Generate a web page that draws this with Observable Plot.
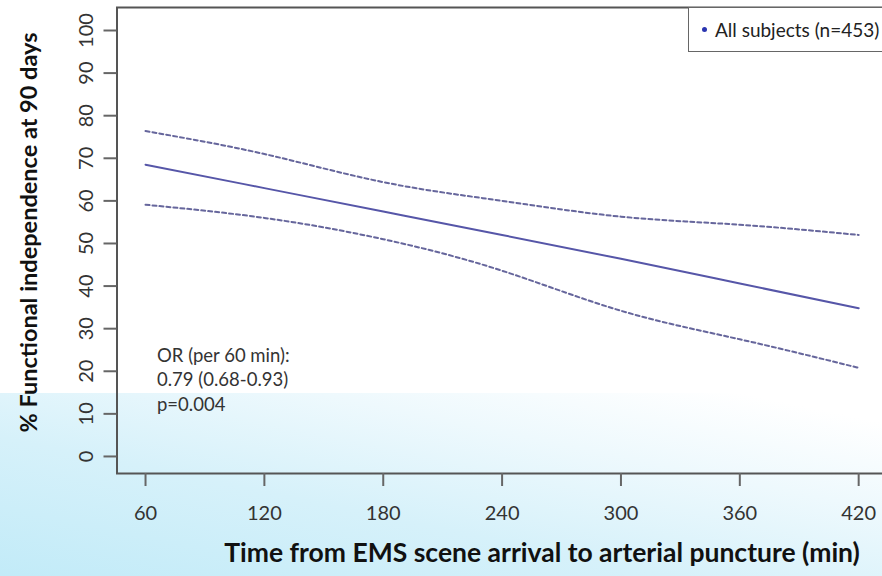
<!DOCTYPE html>
<html>
<head>
<meta charset="utf-8">
<script src="https://cdn.jsdelivr.net/npm/d3@7"></script>
<script src="https://cdn.jsdelivr.net/npm/@observablehq/plot@0.6"></script>
<style>
  html, body { margin: 0; padding: 0; width: 882px; height: 576px; overflow: hidden; background: #fff; font-family: Lato, "Open Sans", sans-serif; }
  #wrap { position: relative; width: 882px; height: 576px; overflow: hidden; }
  #bg { position: absolute; left: 0; top: 393px; width: 882px; height: 183px;
        background: linear-gradient(to top right, #c2ebf8 0%, #d6f1fa 38%, #eef9fd 68%, #ffffff 92%); }
  #chart { position: absolute; left: 0; top: 0; }
  #legend { position: absolute; left: 688px; top: 7px; width: 210px; height: 45px;
            border: 1.5px solid #666; background: #fff; box-sizing: border-box;
            display: flex; align-items: center; font-family: Lato, sans-serif; font-size: 19px; color: #222; }
  #legend .dot { display: inline-block; width: 5px; height: 5px; border-radius: 50%; background: #2a35b0; margin-left: 13px; margin-right: 8px; }
</style>
</head>
<body>
<div id="wrap">
  <div id="bg"></div>
  <div id="chart"></div>
  <div id="legend"><span class="dot"></span><span id="legendText"></span></div>
</div>
<script>
// ---- data ----
const times   = [60, 120, 180, 240, 300, 360, 420];
const fitted  = [68.5, 63.0, 57.5, 52.0, 46.4, 40.6, 34.8];
const upperCI = [76.4, 71.0, 64.4, 60.0, 56.3, 54.4, 52.0];
const lowerCI = [59.1, 56.0, 51.0, 43.6, 34.2, 27.5, 20.8];
const xTicks  = [60, 120, 180, 240, 300, 360, 420];
const yTicks  = [0, 10, 20, 30, 40, 50, 60, 70, 80, 90, 100];
const annotationLines = ["OR (per 60 min):", "0.79 (0.68-0.93)", "p=0.004"];
const legendLabel = "All subjects (n=453)";
const xLabel = "Time from EMS scene arrival to arterial puncture (min)";
const yLabel = "% Functional independence at 90 days";

const rows = times.map((t, i) => ({t, fit: fitted[i], hi: upperCI[i], lo: lowerCI[i]}));

document.getElementById("legendText").textContent = legendLabel;

const lineColor = "#5656a8";
const dashColor = "#66669c";

const chart = Plot.plot({
  width: 890,
  height: 576,
  marginLeft: 116.5,
  marginRight: 3.3,
  marginTop: 7,
  marginBottom: 103,
  style: {background: "transparent", maxWidth: "none", fontFamily: "Lato, sans-serif", color: "#333", overflow: "visible"},
  x: {domain: [45.6, 434.4]},
  y: {domain: [-4, 105.4]},
  marks: [
    Plot.frame({stroke: "#555", strokeWidth: 2}),
    Plot.axisX({ticks: xTicks, tickSize: 13, tickPadding: 19, fontSize: 20, label: null, stroke: "#666", strokeWidth: 2, fill: "#333"}),
    Plot.axisY({ticks: yTicks, tickSize: 13, tickPadding: 11, tickRotate: -90, fontSize: 20, label: null, stroke: "#666", strokeWidth: 2, fill: "#333"}),
    Plot.line(rows, {x: "t", y: "hi", stroke: dashColor, strokeWidth: 2, strokeDasharray: "4,3", curve: "natural"}),
    Plot.line(rows, {x: "t", y: "lo", stroke: dashColor, strokeWidth: 2, strokeDasharray: "4,3", curve: "natural"}),
    Plot.line(rows, {x: "t", y: "fit", stroke: lineColor, strokeWidth: 2, curve: "natural"}),
    Plot.text([annotationLines.join("\n")], {text: d => d, frameAnchor: "bottom-left", textAnchor: "start", lineAnchor: "middle", lineHeight: 1.32, dx: 40, dy: -95, fontSize: 18.5, fill: "#333"}),
    Plot.text([xLabel], {text: d => d, frameAnchor: "bottom", textAnchor: "middle", dx: 40, dy: 88, fontSize: 26.5, fontWeight: "bold", fill: "#111"}),
    Plot.text([yLabel], {text: d => d, frameAnchor: "left", textAnchor: "middle", rotate: -90, dx: -88, dy: -8, fontSize: 23.5, fontWeight: "bold", fill: "#111"})
  ]
});
document.getElementById("chart").appendChild(chart);
</script>
</body>
</html>
